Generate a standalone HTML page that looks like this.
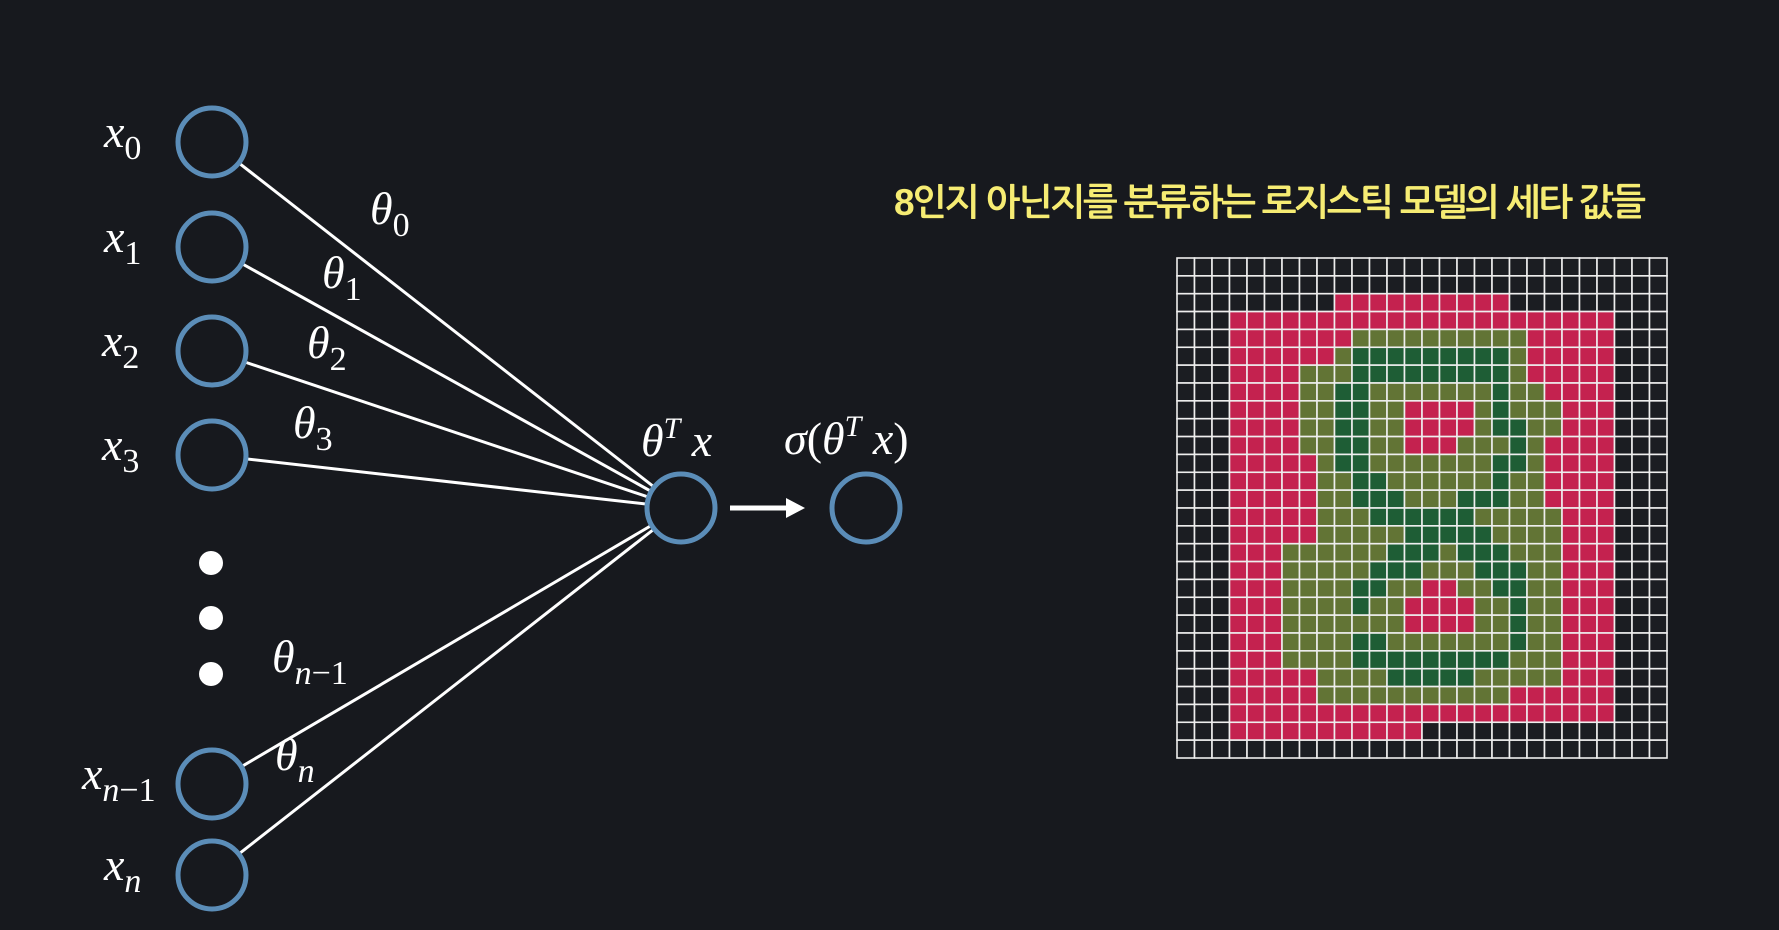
<!DOCTYPE html>
<html><head><meta charset="utf-8"><style>
html,body{margin:0;padding:0;background:#17191e;width:1779px;height:930px;overflow:hidden}
svg{display:block}
.m{font-family:"Liberation Serif",serif;font-style:italic;fill:#fff}
.s{font-family:"Liberation Serif",serif;font-style:normal;fill:#fff}
</style></head><body>
<svg id="svg" width="1779" height="930" viewBox="0 0 1779 930">
<rect width="1779" height="930" fill="#17191e"/>
<g id="edges" stroke="#fff" stroke-width="3">
<line x1="212" y1="142" x2="681" y2="508"/>
<line x1="212" y1="247" x2="681" y2="508"/>
<line x1="212" y1="351" x2="681" y2="508"/>
<line x1="212" y1="455" x2="681" y2="508"/>
<line x1="212" y1="784" x2="681" y2="508"/>
<line x1="212" y1="875" x2="681" y2="508"/>
</g>
<g fill="#17191e" stroke="#5b8db8" stroke-width="5">
<circle cx="212" cy="142" r="34"/>
<circle cx="212" cy="247" r="34"/>
<circle cx="212" cy="351" r="34"/>
<circle cx="212" cy="455" r="34"/>
<circle cx="212" cy="784" r="34"/>
<circle cx="212" cy="875" r="34"/>
<circle cx="681" cy="508" r="34"/>
<circle cx="866" cy="508" r="34"/>
</g>
<g fill="#fff">
<circle cx="211" cy="563" r="12"/>
<circle cx="211" cy="618" r="12"/>
<circle cx="211" cy="674" r="12"/>
</g>
<line x1="730" y1="508" x2="788" y2="508" stroke="#fff" stroke-width="5"/>
<polygon points="786,498 805,508 786,518" fill="#fff"/>
<g font-size="46">
<text class="m" x="104" y="147">x<tspan class="s" font-size="34" dy="12">0</tspan></text>
<text class="m" x="104" y="252">x<tspan class="s" font-size="34" dy="12">1</tspan></text>
<text class="m" x="102" y="356">x<tspan class="s" font-size="34" dy="12">2</tspan></text>
<text class="m" x="102" y="460">x<tspan class="s" font-size="34" dy="12">3</tspan></text>
<text class="m" x="82" y="789">x<tspan font-size="34" dy="12">n</tspan><tspan class="s" font-size="34">−1</tspan></text>
<text class="m" x="104" y="880">x<tspan font-size="34" dy="12">n</tspan></text>
<text class="m" x="370" y="224">θ<tspan class="s" font-size="34" dy="12">0</tspan></text>
<text class="m" x="322" y="288">θ<tspan class="s" font-size="34" dy="12">1</tspan></text>
<text class="m" x="307" y="358">θ<tspan class="s" font-size="34" dy="12">2</tspan></text>
<text class="m" x="293" y="438">θ<tspan class="s" font-size="34" dy="12">3</tspan></text>
<text class="m" x="272" y="672">θ<tspan font-size="34" dy="12">n</tspan><tspan class="s" font-size="34">−1</tspan></text>
<text class="m" x="275" y="770">θ<tspan font-size="34" dy="12">n</tspan></text>
<text class="m" x="641" y="456">θ<tspan font-size="30" dy="-18">T</tspan><tspan dy="18"> x</tspan></text>
<text class="m" x="784" y="454">σ<tspan class="s">(</tspan>θ<tspan font-size="30" dy="-18">T</tspan><tspan dy="18"> x</tspan><tspan class="s">)</tspan></text>
</g>
<text x="1270" y="215" text-anchor="middle" font-size="37" font-weight="bold" fill="#f6ec73" font-family="'Liberation Sans','NanumGothic','Noto Sans CJK KR',sans-serif" textLength="752">8인지 아닌지를 분류하는 로지스틱 모델의 세타 값들</text>
<g id="grid"></g>
</svg>
<script>
// 0=near zero (black), P=positive weight (pink), L=small negative (olive), D=strong negative (dark green)
const rows = [
"0000000000000000000000000000",
"0000000000000000000000000000",
"000000000PPPPPPPPPP000000000",
"000PPPPPPPPPPPPPPPPPPPPPP000",
"000PPPPPPPLLLLLLLLLLPPPPP000",
"000PPPPPPLDDDDDDDDDLPPPPP000",
"000PPPPLLLDDDDDDDDDLPPPPP000",
"000PPPPLLDDLLLLLLLDLLPPPP000",
"000PPPPLLDDLLPPPPLDLLLPPP000",
"000PPPPLLDDLLPPPPLDDLLPPP000",
"000PPPPLLDDLLPPPLLLDLPPPP000",
"000PPPPPLDDLLLLLLLDDLPPPP000",
"000PPPPPLLDDLLLLLLDLLPPPP000",
"000PPPPPLLDDDLLLDDDLLPPPP000",
"000PPPPPLLLDDDDDDLLLLLPPP000",
"000PPPPPLLLLLDDDDDLLLLPPP000",
"000PPPLLLLLLDDDLDDDLLLPPP000",
"000PPPLLLLLDDDLLLDDDLLPPP000",
"000PPPLLLLDDLLPPLLDDLLPPP000",
"000PPPLLLLDLLPPPPLLDLLPPP000",
"000PPPLLLLLLLPPPPLLDLLPPP000",
"000PPPLLLLDDLLLLLLLDLLPPP000",
"000PPPLLLLDDDDDDDDDLLLPPP000",
"000PPPPPLLLLDDDDDLLLLLPPP000",
"000PPPPPLLLLLLLLLLLPPPPPP000",
"000PPPPPPPPPPPPPPPPPPPPPP000",
"000PPPPPPPPPPP00000000000000",
"0000000000000000000000000000"
];
const levels = ["0","P","L","D"];
const levelColors = ["#1b1d22","#c4224f","#627435","#1e5d35"];
const x0=1177, y0=258, gw=490, gh=500, n=28;
const xs = c => x0 + c*gw/n;
const ys = r => y0 + r*gh/n;
const g = document.getElementById('grid');
const NS="http://www.w3.org/2000/svg";
rows.forEach((row,r)=>{
  row.split('').forEach((v,c)=>{
    const rect=document.createElementNS(NS,'rect');
    rect.setAttribute('x',xs(c));rect.setAttribute('y',ys(r));
    rect.setAttribute('width',gw/n);rect.setAttribute('height',gh/n);
    rect.setAttribute('fill',levelColors[levels.indexOf(v)]);
    rect.setAttribute('stroke','#eeeeee');rect.setAttribute('stroke-width','1.6');
    
    
    g.appendChild(rect);
  });
});
</script>
</body></html>
